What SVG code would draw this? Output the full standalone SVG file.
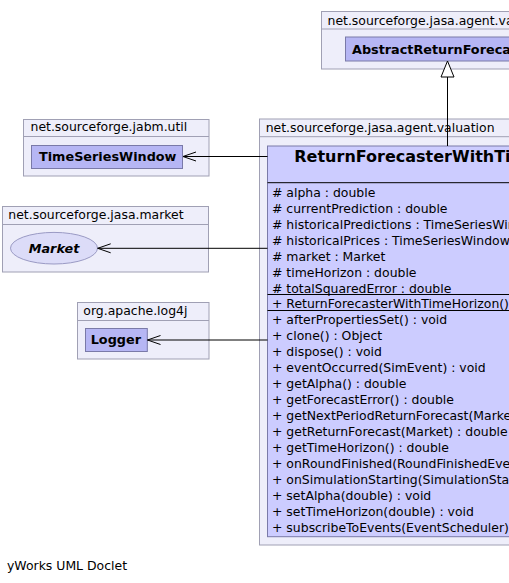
<svg xmlns="http://www.w3.org/2000/svg" width="509" height="583" viewBox="0 0 509 583">
<style>
.pkg{fill:#eeeefa;stroke:#a0a0b4;stroke-width:1}
.cls{fill:#b6b6f4;stroke:#7a7aa8;stroke-width:1}
.main{fill:#ccccff;stroke:#7a7aa8;stroke-width:1}
.sep{stroke:#000;stroke-width:1}
.t{font-family:"DejaVu Sans",sans-serif;font-size:12.45px;fill:#000}
.b{font-family:"DejaVu Sans",sans-serif;font-size:12.8px;font-weight:bold;fill:#000}
.edge{stroke:#000;stroke-width:1;fill:none}
</style>
<rect width="509" height="583" fill="#fff"/>
<g id="pkg-agent-v">
<rect class="pkg" x="321.5" y="11.5" width="220" height="57.5"/>
<line class="pkg" x1="321.5" y1="29" x2="541.5" y2="29"/>
<text class="t" x="327.5" y="25">net.sourceforge.jasa.agent.valuation</text>
<g id="AbstractReturnForecaster">
<rect class="cls" x="345.5" y="37" width="204" height="24"/>
<text class="b" x="352" y="53.5">AbstractReturnForecaster</text>
</g>
</g>
<g id="pkg-jabm-util">
<rect class="pkg" x="23.5" y="119.5" width="185.5" height="56.5"/>
<line class="pkg" x1="23.5" y1="136.5" x2="209" y2="136.5"/>
<text class="t" x="30.5" y="131">net.sourceforge.jabm.util</text>
<g id="TimeSeriesWindow">
<rect class="cls" x="31.5" y="145.5" width="151" height="23"/>
<text class="b" x="39" y="161.2">TimeSeriesWindow</text>
</g>
</g>
<g id="pkg-market">
<rect class="pkg" x="2.5" y="206.5" width="206" height="65.5"/>
<line class="pkg" x1="2.5" y1="224.5" x2="208.5" y2="224.5"/>
<text class="t" x="8.3" y="218.5">net.sourceforge.jasa.market</text>
<g id="Market">
<ellipse cx="54" cy="248.2" rx="43.5" ry="15.8" fill="#dcdcf8" stroke="#9a9ac4" stroke-width="1"/>
<text class="b" x="54" y="252.7" text-anchor="middle" font-style="italic">Market</text>
</g>
</g>
<g id="pkg-log4j">
<rect class="pkg" x="77.5" y="302.5" width="131.5" height="56.5"/>
<line class="pkg" x1="77.5" y1="320.5" x2="209" y2="320.5"/>
<text class="t" x="83.3" y="314.5">org.apache.log4j</text>
<g id="Logger">
<rect class="cls" x="85.5" y="328.5" width="61.8" height="23"/>
<text class="b" x="90.7" y="344.3">Logger</text>
</g>
</g>
<g id="pkg-valuation">
<rect class="pkg" x="259.5" y="119" width="390" height="426"/>
<line class="pkg" x1="259.5" y1="136.7" x2="649.5" y2="136.7"/>
<text class="t" x="265.7" y="131.5">net.sourceforge.jasa.agent.valuation</text>
<g id="ReturnForecasterWithTimeHorizon">
<rect class="main" x="267.5" y="146" width="366" height="390.7"/>
<text x="294.3" y="161.7" font-family="DejaVu Sans,sans-serif" font-size="16" font-weight="bold">ReturnForecasterWithTimeHorizon</text>
<line class="sep" x1="267.5" y1="182.7" x2="633.5" y2="182.7"/>
<text class="t" x="272" y="196.5"># alpha : double</text>
<text class="t" x="272" y="212.5"># currentPrediction : double</text>
<text class="t" x="272" y="228.5"># historicalPredictions : TimeSeriesWindow</text>
<text class="t" x="272" y="244.5"># historicalPrices : TimeSeriesWindow</text>
<text class="t" x="272" y="260.5"># market : Market</text>
<text class="t" x="272" y="276.5"># timeHorizon : double</text>
<text class="t" x="272" y="292.5"># totalSquaredError : double</text>
<line class="sep" x1="267.5" y1="294.5" x2="633.5" y2="294.5"/>
<text class="t" x="272" y="308.3">+ ReturnForecasterWithTimeHorizon()</text>
<line class="sep" x1="267.5" y1="310.5" x2="633.5" y2="310.5"/>
<text class="t" x="272" y="324.3">+ afterPropertiesSet() : void</text>
<text class="t" x="272" y="340.3">+ clone() : Object</text>
<text class="t" x="272" y="356.3">+ dispose() : void</text>
<text class="t" x="272" y="372.3">+ eventOccurred(SimEvent) : void</text>
<text class="t" x="272" y="388.3">+ getAlpha() : double</text>
<text class="t" x="272" y="404.3">+ getForecastError() : double</text>
<text class="t" x="272" y="420.3">+ getNextPeriodReturnForecast(Market) : double</text>
<text class="t" x="272" y="436.3">+ getReturnForecast(Market) : double</text>
<text class="t" x="272" y="452.3">+ getTimeHorizon() : double</text>
<text class="t" x="272" y="468.3">+ onRoundFinished(RoundFinishedEvent) : void</text>
<text class="t" x="272" y="484.3">+ onSimulationStarting(SimulationStartingEvent) : void</text>
<text class="t" x="272" y="500.3">+ setAlpha(double) : void</text>
<text class="t" x="272" y="516.3">+ setTimeHorizon(double) : void</text>
<text class="t" x="272" y="532.3">+ subscribeToEvents(EventScheduler) : void</text>
</g>
</g>
<g id="connectors">
<line class="edge" x1="447.5" y1="146" x2="447.5" y2="77"/>
<polygon points="447.5,61 441,77 454,77" fill="#fff" stroke="#000" stroke-width="1"/>
<line class="edge" x1="267.5" y1="156.5" x2="183" y2="156.5"/>
<polyline class="edge" points="196,152 183,156.5 196,161"/>
<line class="edge" x1="267.5" y1="248.3" x2="97.7" y2="248.3"/>
<polyline class="edge" points="110.7,243.8 97.7,248.3 110.7,252.8"/>
<line class="edge" x1="267.5" y1="340" x2="147.5" y2="340"/>
<polyline class="edge" points="160.5,335.5 147.5,340 160.5,344.5"/>
</g>
<text class="t" x="7" y="569.5">yWorks UML Doclet</text>
</svg>
